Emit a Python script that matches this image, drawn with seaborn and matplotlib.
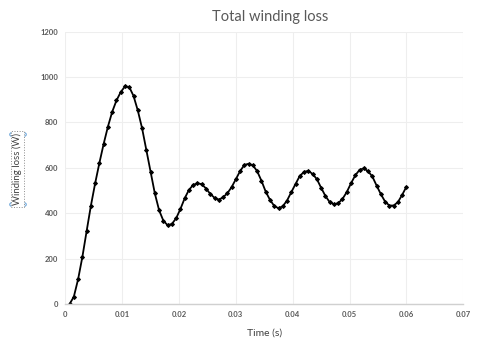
import matplotlib
matplotlib.use("Agg")
import matplotlib.pyplot as plt
import seaborn as sns
import numpy as np
import pandas as pd

time_step = 0.00075
loss_w = [0, 32, 109, 207, 321, 433, 532, 622, 706, 782,
          847, 897, 934, 959, 956, 917, 853, 775, 679, 583,
          487, 413, 367, 347, 353, 378, 419, 466, 503, 525,
          532, 528, 509, 485, 468, 460, 470, 488, 515, 550,
          586, 613, 618, 611, 585, 543, 495, 459, 432, 422,
          431, 456, 493, 529, 565, 582, 587, 573, 550, 512,
          476, 449, 440, 444, 463, 493, 532, 567, 591, 598,
          585, 562, 522, 484, 451, 434, 434, 449, 481, 517]
time_s = [round(time_step * (i + 1), 5) for i in range(len(loss_w))]
x_ticks = [0, 0.01, 0.02, 0.03, 0.04, 0.05, 0.06, 0.07]
x_tick_labels = ["0", "0.01", "0.02", "0.03", "0.04", "0.05", "0.06", "0.07"]
y_ticks = [0, 200, 400, 600, 800, 1000, 1200]

df = pd.DataFrame({"Time (s)": time_s, "Winding loss (W)": loss_w})

sns.set_theme(style="whitegrid")
plt.rcParams["font.family"] = ["Lato", "DejaVu Sans"]

fig = plt.figure(figsize=(5.0, 3.54), dpi=100)
ax = fig.add_axes([0.1306, 0.1412, 0.796, 0.7693])

sns.lineplot(data=df, x="Time (s)", y="Winding loss (W)", ax=ax,
             color="black", linewidth=1.3, marker="D", markersize=2.0,
             markeredgecolor="black", markerfacecolor="black")

ax.set_xlim(0, 0.07)
ax.set_ylim(0, 1200)
ax.set_xticks(x_ticks)
ax.set_xticklabels(x_tick_labels)
ax.set_yticks(y_ticks)
ax.tick_params(axis="both", length=0, labelsize=5.5, labelcolor="#595959", pad=5)
for lab in ax.get_xticklabels() + ax.get_yticklabels():
    lab.set_fontweight("bold")
ax.grid(True, color="#eeeeee", linewidth=0.8)
for s in ["top", "right", "left"]:
    ax.spines[s].set_visible(False)
ax.spines["bottom"].set_color("#d0d0d0")
ax.spines["bottom"].set_linewidth(1.0)

ax.set_xlabel("Time (s)", fontsize=7.5, color="#404040", labelpad=8)
ax.set_ylabel("")
fig.text(0.54, 0.953, "Total winding loss", ha="center", va="center",
         fontsize=10.5, color="#595959")

# y-axis title in a (selected) dotted box
fig.text(0.0347, 0.523, "Winding loss (W)", rotation=90, ha="center", va="center",
         fontsize=6.9, color="#404040",
         bbox=dict(boxstyle="square,pad=0.2", facecolor="white",
                   edgecolor="#8c8c8c", linestyle=":", linewidth=0.7))
for (hx, hy) in [(0.022, 0.621), (0.047, 0.621), (0.022, 0.424), (0.047, 0.424)]:
    fig.add_artist(plt.Line2D([hx], [hy], marker="o", markersize=2.5,
                              markerfacecolor="white", markeredgecolor="#5b9bd5",
                              markeredgewidth=0.7, transform=fig.transFigure))

fig.savefig("out.png", dpi=100)
